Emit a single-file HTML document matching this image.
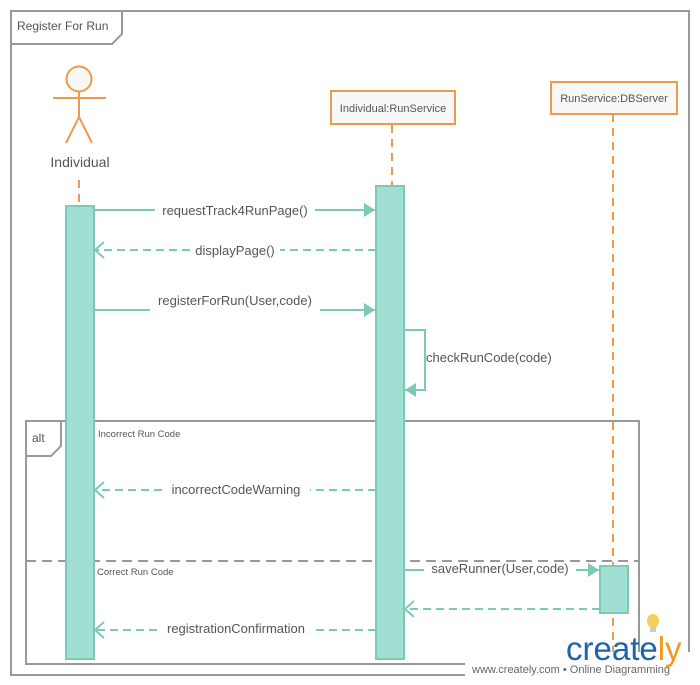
<!DOCTYPE html>
<html><head><meta charset="utf-8"><style>
html,body{margin:0;padding:0;background:#fff;width:700px;height:685px;overflow:hidden}
text{font-family:"Liberation Sans","DejaVu Sans",sans-serif;fill:#555}
</style></head><body>
<svg width="700" height="685" viewBox="0 0 700 685" xmlns="http://www.w3.org/2000/svg">
<defs>
<marker id="fa" markerWidth="12" markerHeight="14" refX="11" refY="7" orient="auto" markerUnits="userSpaceOnUse"><path d="M0,0 L11,7 L0,14 z" fill="#7cc9b5"/></marker>
<marker id="oa" markerWidth="14" markerHeight="18" refX="11" refY="9" orient="auto" markerUnits="userSpaceOnUse"><path d="M2,1 L11,9 L2,17" fill="none" stroke="#7cc9b5" stroke-width="2"/></marker>
</defs>
<!-- outer frame -->
<rect x="11" y="11" width="678" height="664" fill="#fff" stroke="#999" stroke-width="2"/>
<path d="M11,44 L112,44 L122,34 L122,11" fill="none" stroke="#999" stroke-width="2"/>
<text x="17" y="30" font-size="12">Register For Run</text>

<!-- actor -->
<circle cx="79" cy="79" r="12.5" fill="#f8f8f8" stroke="#ef9a4a" stroke-width="2"/>
<line x1="53" y1="98" x2="106" y2="98" stroke="#ef9a4a" stroke-width="2"/>
<line x1="79" y1="91" x2="79" y2="117" stroke="#ef9a4a" stroke-width="2"/>
<path d="M66,143 L79,117 L92,143" fill="none" stroke="#ef9a4a" stroke-width="2"/>
<text x="80" y="167" font-size="14" text-anchor="middle">Individual</text>
<line x1="79" y1="180" x2="79" y2="206" stroke="#ef9a4a" stroke-width="2" stroke-dasharray="8,6"/>

<!-- lifeline boxes -->
<rect x="331" y="91" width="124" height="33" fill="#f8f8f8" stroke="#ef9a4a" stroke-width="2"/>
<text x="393" y="112" font-size="11" text-anchor="middle">Individual:RunService</text>
<line x1="392" y1="125" x2="392" y2="186" stroke="#ef9a4a" stroke-width="2" stroke-dasharray="8,6"/>
<rect x="551" y="82" width="126" height="32" fill="#f8f8f8" stroke="#ef9a4a" stroke-width="2"/>
<text x="614" y="102" font-size="11" text-anchor="middle">RunService:DBServer</text>
<line x1="613" y1="114" x2="613" y2="675" stroke="#ef9a4a" stroke-width="2" stroke-dasharray="8,6"/>

<!-- alt frame -->
<rect x="26" y="421" width="613" height="243" fill="none" stroke="#999" stroke-width="2"/>
<path d="M26,456 L51,456 L61,446 L61,421" fill="none" stroke="#999" stroke-width="2"/>
<text x="32" y="442" font-size="12">alt</text>
<line x1="26" y1="561" x2="639" y2="561" stroke="#999" stroke-width="2" stroke-dasharray="10,6"/>
<text x="98" y="437" font-size="9.5">Incorrect Run Code</text>
<text x="97" y="575" font-size="9.5">Correct Run Code</text>

<!-- activations -->
<rect x="66" y="206" width="28" height="453" fill="#a0dfd2" stroke="#7cc9b5" stroke-width="2"/>
<rect x="376" y="186" width="28" height="473" fill="#a0dfd2" stroke="#7cc9b5" stroke-width="2"/>
<rect x="600" y="566" width="28" height="47" fill="#a0dfd2" stroke="#7cc9b5" stroke-width="2"/>

<!-- messages -->
<g stroke="#7cc9b5" stroke-width="2" fill="none">
<line x1="95" y1="210" x2="155" y2="210"/><line x1="315" y1="210" x2="375" y2="210" marker-end="url(#fa)"/>
<line x1="376" y1="250" x2="280" y2="250" stroke-dasharray="8,5"/><line x1="190" y1="250" x2="95" y2="250" stroke-dasharray="8,5" marker-end="url(#oa)"/>
<line x1="95" y1="310" x2="150" y2="310"/><line x1="320" y1="310" x2="375" y2="310" marker-end="url(#fa)"/>
<path d="M405,330 L425,330 L425,390 L405,390" marker-end="url(#fa)"/>
<line x1="376" y1="490" x2="310" y2="490" stroke-dasharray="8,5"/><line x1="162" y1="490" x2="95" y2="490" stroke-dasharray="8,5" marker-end="url(#oa)"/>
<line x1="405" y1="570" x2="424" y2="570"/><line x1="576" y1="570" x2="599" y2="570" marker-end="url(#fa)"/>
<line x1="600" y1="609" x2="405" y2="609" stroke-dasharray="8,5" marker-end="url(#oa)"/>
<line x1="376" y1="630" x2="315" y2="630" stroke-dasharray="8,5"/><line x1="157" y1="630" x2="95" y2="630" stroke-dasharray="8,5" marker-end="url(#oa)"/>
</g>
<g font-size="13">
<text x="235" y="215" text-anchor="middle">requestTrack4RunPage()</text>
<text x="235" y="255" text-anchor="middle">displayPage()</text>
<text x="235" y="305" text-anchor="middle">registerForRun(User,code)</text>
<text x="426" y="362">checkRunCode(code)</text>
<text x="236" y="494" text-anchor="middle">incorrectCodeWarning</text>
<text x="500" y="573" text-anchor="middle">saveRunner(User,code)</text>
<text x="236" y="633" text-anchor="middle">registrationConfirmation</text>
</g>

<!-- logo -->
<rect x="465" y="652" width="225" height="28" fill="#fff"/>
<ellipse cx="653" cy="621" rx="6" ry="7" fill="#f5cf5a"/>
<rect x="650" y="627" width="6" height="5" fill="#ccc"/>
<text x="566" y="660" font-size="33" style="fill:#1d63ad">create<tspan style="fill:#f29a1f">ly</tspan></text>
<text x="472" y="673" font-size="11" style="fill:#666">www.creately.com • Online Diagramming</text>
</svg>
</body></html>
